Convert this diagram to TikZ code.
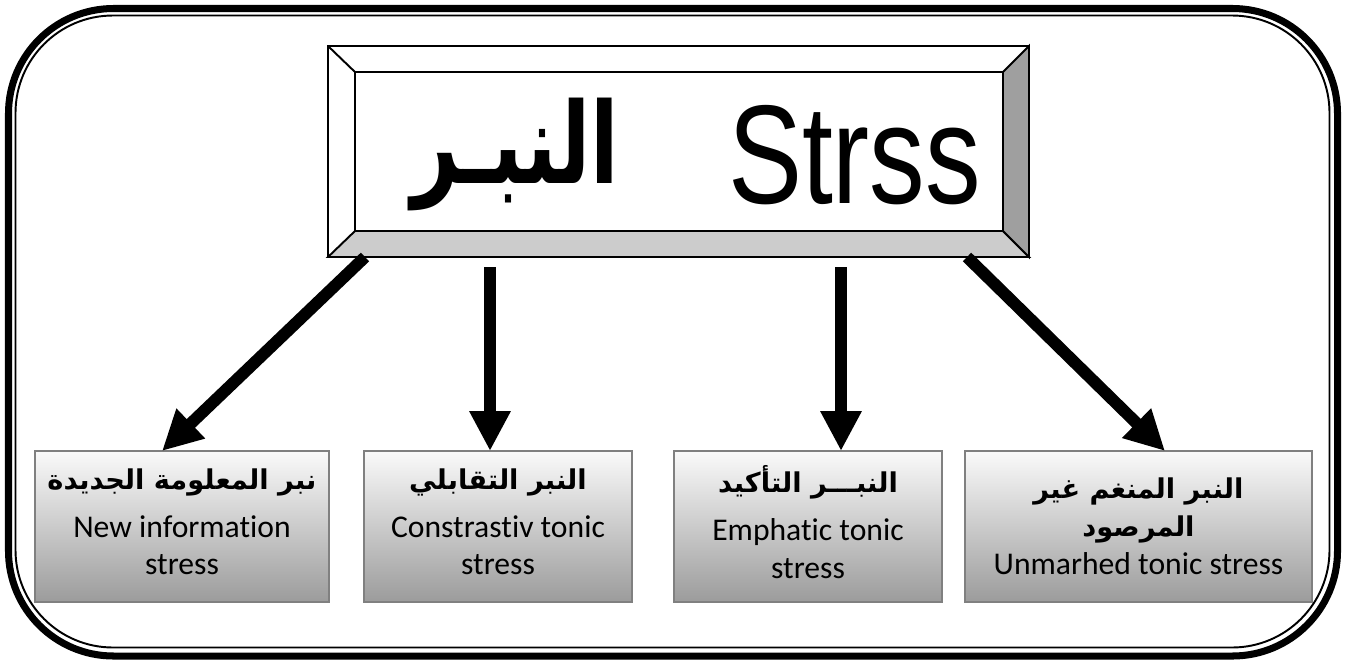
\documentclass[tikz,border=0pt]{standalone}
\usepackage{fontspec}
\setmainfont[Ligatures=NoCommon]{Carlito}
\newfontfamily\arabicfont[Script=Arabic]{DejaVu Sans}
\newfontfamily\arabictall[Script=Arabic, FakeStretch=0.74]{DejaVu Sans}
\newfontfamily\titlefont[FakeStretch=0.79]{Liberation Sans}
\TeXXeTstate=1
\usetikzlibrary{arrows.meta,calc}
\tikzset{
  bigarrow/.style={-{Triangle[length=22.7pt,width=22pt]}, line width=6.8pt},
  bevel/.style={draw, line width=1.1pt, outer sep=0pt, inner sep=0pt},
  subbox/.style={draw=gray, line width=1.1pt, top color=gray!4, bottom color=gray!78,
    minimum height=3.02cm, align=center, inner sep=0pt, outer sep=0pt,
    font=\fontsize{18}{21.5}\selectfont}
}
\newcommand{\ar}[1]{{\arabicfont\bfseries\fontsize{15.5}{18}\selectfont\beginR #1\endR}}

\begin{document}
\begin{tikzpicture}[x=0.2mm, y=-0.2mm]
    \useasboundingbox (0,0) rectangle (1346,663);
    \draw[line width=4pt, rounded corners=2.1cm] (8.5,8.5) rectangle (1337.5,656);
    \draw[line width=1.1pt, rounded corners=1.95cm] (15.5,15.5) rectangle (1329.5,647.5);

    \node[bevel, fill=white, minimum width=14.02cm, minimum height=4.22cm] (head) at (678.5,151.5) {};
    \node[bevel, minimum width=12.96cm, minimum height=3.18cm] (title) at (679,151.5) {};
    \filldraw[bevel, fill=gray!40] (head.south west) -- (title.south west) -- (title.south east) -- (head.south east) -- cycle;
    \filldraw[bevel, fill=gray!75] (head.south east) -- (title.south east) -- (title.north east) -- (head.north east) -- cycle;
    \draw[bevel] (head.north west) -- (title.north west);
    \node[anchor=base, font=\arabictall\bfseries\fontsize{64}{68}\selectfont] (tar) at (515.5,183) {\beginR النبـر\endR};
    \node[anchor=base, font=\titlefont\fontsize{80}{86}\selectfont] (ten) at (854.5,203) {Strss};

    \node[subbox, minimum width=5.88cm] (b1) at (182,526.5) {\ar{نبر المعلومة الجديدة}\\[5.7pt] New information\\ stress\\[-16pt]};
    \node[subbox, minimum width=5.36cm] (b2) at (498,526.5) {\ar{النبر التقابلي}\\[5.7pt] Constrastiv tonic\\ stress\\[-16pt]};
    \node[subbox, minimum width=5.36cm] (b3) at (808,526.5) {\ar{النبـــر التأكيد}\\[5.7pt] Emphatic tonic\\ stress\\[-16pt]};
    \node[subbox, minimum width=6.94cm] (b4) at (1138.5,526.5) {\ar{النبر المنغم غير}\\\ar{المرصود}\\ Unmarhed tonic stress};

    \draw[bigarrow] ($(head.south west)+(37,0)$) -- ($(b1.north)+(-20,0)$);
    \draw[bigarrow] ($(head.south -| b2.north)+(-8,10)$) -- ($(b2.north)+(-8,0)$);
    \draw[bigarrow] ($(head.south -| b3.north)+(33,10)$) -- ($(b3.north)+(33,0)$);
    \draw[bigarrow] ($(head.south east)+(-62,0)$) -- ($(b4.north)+(26.5,0)$);
  \end{tikzpicture}
\end{document}
